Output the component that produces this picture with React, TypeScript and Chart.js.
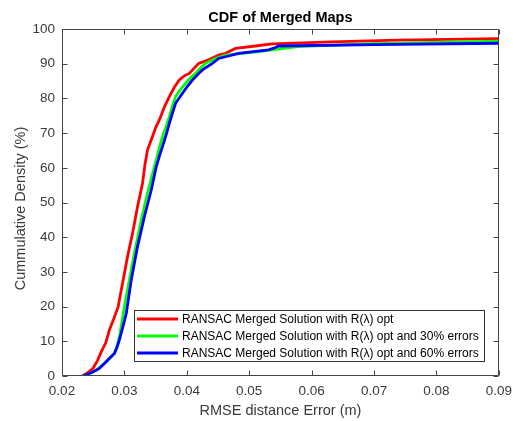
import React, { useEffect, useRef } from "react";
import { Chart, registerables } from "chart.js";

Chart.register(...registerables);

const TITLE = "CDF of Merged Maps";
const X_LABEL = "RMSE distance Error (m)";
const Y_LABEL = "Cummulative Density (%)";
const SERIES_LABELS = [
  "RANSAC Merged Solution with R(\u03bb) opt",
  "RANSAC Merged Solution with R(\u03bb) opt and 30% errors",
  "RANSAC Merged Solution with R(\u03bb) opt and 60% errors",
];
const SERIES_COLORS = ["#ff0000", "#00ff00", "#0000ff"];

const X_MIN = 0.02;
const X_MAX = 0.09;
const X_STEP = 0.01;
const Y_MIN = 0;
const Y_MAX = 100;
const Y_STEP = 10;

const redX = [0.0233, 0.0243, 0.025, 0.0257, 0.0263, 0.027, 0.0276, 0.0283, 0.029, 0.0297, 0.0305, 0.0313, 0.0321, 0.0329, 0.0333, 0.0337, 0.0345, 0.035, 0.0356, 0.0364, 0.0372, 0.038, 0.0388, 0.0396, 0.0404, 0.0419, 0.0435, 0.0451, 0.0462, 0.0478, 0.051, 0.0536, 0.0631, 0.0737, 0.09];
const redY = [0, 1.2, 2.3, 4.5, 7, 9.5, 13.3, 16.5, 20, 26.7, 34.4, 41.1, 48.8, 55.5, 61, 65.1, 69, 71.5, 73.8, 77.5, 80.5, 83.2, 85.3, 86.5, 87.2, 90.1, 91.1, 92.5, 93, 94.4, 95.1, 95.7, 96.3, 96.8, 97.2];

const greenX = [0.0233, 0.0245, 0.0255, 0.0263, 0.0271, 0.0278, 0.0284, 0.0288, 0.0292, 0.0296, 0.03, 0.0308, 0.0316, 0.0327, 0.0337, 0.0344, 0.0351, 0.0356, 0.0361, 0.0367, 0.0372, 0.0377, 0.0382, 0.039, 0.0398, 0.0406, 0.0414, 0.0422, 0.043, 0.0446, 0.0462, 0.0515, 0.0578, 0.07, 0.09];
const greenY = [0, 0.8, 1.7, 2.9, 4.1, 5.3, 6.5, 8.5, 11.3, 15.5, 20, 27.7, 35.4, 45, 52.7, 57.5, 62.2, 65.8, 69, 72, 74.7, 77.8, 80.5, 82.6, 84.3, 86, 87.2, 88.8, 90.1, 91.5, 92.5, 93.5, 94.9, 95.8, 96.5];

const blueX = [0.0233, 0.0248, 0.026, 0.0268, 0.0276, 0.0284, 0.0288, 0.0292, 0.0297, 0.0303, 0.0311, 0.0321, 0.0332, 0.0343, 0.0351, 0.0356, 0.0361, 0.0367, 0.0372, 0.0377, 0.0382, 0.0393, 0.0401, 0.0409, 0.0419, 0.0425, 0.0441, 0.0451, 0.0462, 0.0483, 0.0531, 0.0541, 0.0547, 0.07, 0.09];
const blueY = [0, 1, 2.2, 3.6, 5.1, 6.5, 8.2, 10.4, 13.8, 18, 27.7, 37.3, 45.9, 53.6, 60.3, 63.4, 66.1, 69.6, 72.8, 75.8, 78.6, 81.5, 83.5, 85.3, 87.2, 88.2, 90.1, 91.5, 92, 93, 94, 94.6, 95.1, 95.5, 95.9];

const SERIES_X = [redX, greenX, blueX];
const SERIES_Y = [redY, greenY, blueY];

const FONT = '"Liberation Sans", Arial, Helvetica, sans-serif';
const TEXT = "#3a3a3a";

function zip(xs: number[], ys: number[]) {
  return xs.map((x, i) => ({ x, y: ys[i] }));
}

const framePlugin = {
  id: "matlabFrame",
  afterDatasetsDraw(chart: any) {
    const { ctx, chartArea: a, scales } = chart;
    const L = Math.round(a.left) + 0.5;
    const R = Math.round(a.right) - 0.5;
    const T = Math.round(a.top) + 0.5;
    const B = Math.round(a.bottom) - 0.5;
    ctx.save();
    ctx.strokeStyle = "#444444";
    ctx.lineWidth = 1;
    ctx.beginPath();
    ctx.rect(L, T, R - L, B - T);
    ctx.stroke();
    const tl = 5;
    ctx.beginPath();
    scales.x.ticks.forEach((t: any) => {
      const px = Math.round(scales.x.getPixelForValue(t.value)) + 0.5;
      ctx.moveTo(px, B);
      ctx.lineTo(px, B - tl);
      ctx.moveTo(px, T);
      ctx.lineTo(px, T + tl);
    });
    scales.y.ticks.forEach((t: any) => {
      const py = Math.round(scales.y.getPixelForValue(t.value)) + 0.5;
      ctx.moveTo(L, py);
      ctx.lineTo(L + tl, py);
      ctx.moveTo(R, py);
      ctx.lineTo(R - tl, py);
    });
    ctx.stroke();
    ctx.restore();
  },
  afterDraw(chart: any) {
    const { ctx, chartArea: a } = chart;
    ctx.save();
    ctx.fillStyle = "#000000";
    ctx.textAlign = "center";
    ctx.textBaseline = "middle";
    ctx.font = `bold 14.5px ${FONT}`;
    ctx.fillText(TITLE, (a.left + a.right) / 2, 18);

    ctx.fillStyle = TEXT;
    ctx.font = `14.5px ${FONT}`;
    ctx.fillText(X_LABEL, (a.left + a.right) / 2, 411);
    ctx.save();
    ctx.translate(21, (a.top + a.bottom) / 2 + 6);
    ctx.rotate(-Math.PI / 2);
    ctx.fillText(Y_LABEL, 0, 0);
    ctx.restore();

    // legend
    ctx.font = `12px ${FONT}`;
    const widths = SERIES_LABELS.map((s) => ctx.measureText(s).width);
    const maxW = Math.max(...widths);
    const rowH = 17;
    const boxW = 48 + maxW + 6;
    const boxH = rowH * SERIES_LABELS.length + 1;
    const right = Math.round(a.right) - 14;
    const bottom = Math.round(a.bottom) - 14;
    const left = right - Math.round(boxW);
    const top = bottom - boxH;
    ctx.fillStyle = "#ffffff";
    ctx.fillRect(left, top, right - left, bottom - top);
    ctx.strokeStyle = "#333333";
    ctx.lineWidth = 1;
    ctx.strokeRect(left + 0.5, top + 0.5, right - left - 1, bottom - top - 1);
    ctx.textAlign = "left";
    SERIES_LABELS.forEach((label, i) => {
      const cy = top + 9 + i * rowH;
      ctx.strokeStyle = SERIES_COLORS[i];
      ctx.lineWidth = 3;
      ctx.beginPath();
      ctx.moveTo(left + 3, cy);
      ctx.lineTo(left + 44, cy);
      ctx.stroke();
      ctx.fillStyle = "#000000";
      ctx.fillText(label, left + 48, cy + 0.5);
    });
    ctx.restore();
  },
};

export default function App() {
  const canvasRef = useRef<HTMLCanvasElement | null>(null);

  useEffect(() => {
    document.body.style.margin = "0";
    const canvas = canvasRef.current;
    if (!canvas) return;
    const chart = new Chart(canvas, {
      type: "scatter",
      data: {
        datasets: SERIES_LABELS.map((label, i) => ({
          label,
          data: zip(SERIES_X[i], SERIES_Y[i]),
          showLine: true,
          borderColor: SERIES_COLORS[i],
          backgroundColor: SERIES_COLORS[i],
          borderWidth: 2.8,
          pointRadius: 0,
          pointHoverRadius: 0,
          tension: 0,
          order: SERIES_LABELS.length - i,
        })),
      },
      options: {
        animation: false,
        responsive: false,
        devicePixelRatio: 1,
        layout: { padding: { top: 29, right: 17, left: 0, bottom: 0 } },
        plugins: {
          legend: { display: false },
          title: { display: false },
          tooltip: { enabled: false },
        },
        scales: {
          x: {
            type: "linear",
            min: X_MIN,
            max: X_MAX,
            grid: { display: false, drawTicks: false },
            border: { display: false },
            ticks: {
              stepSize: X_STEP,
              padding: 7,
              maxRotation: 0,
              autoSkip: false,
              color: TEXT,
              font: { family: FONT, size: 13.5 },
              callback: (v: any) => Number(v).toFixed(2),
            },
            afterFit: (s: any) => {
              s.height = 45;
            },
          },
          y: {
            type: "linear",
            min: Y_MIN,
            max: Y_MAX,
            grid: { display: false, drawTicks: false },
            border: { display: false },
            ticks: {
              stepSize: Y_STEP,
              padding: 7,
              color: TEXT,
              font: { family: FONT, size: 13.5 },
              callback: (v: any) => String(Math.round(Number(v))),
            },
            afterFit: (s: any) => {
              s.width = 62;
            },
          },
        },
      },
      plugins: [framePlugin],
    });
    return () => chart.destroy();
  }, []);

  return (
    <div style={{ width: 519, height: 421, background: "#ffffff" }}>
      <canvas ref={canvasRef} width={519} height={421} style={{ display: "block" }} />
    </div>
  );
}
